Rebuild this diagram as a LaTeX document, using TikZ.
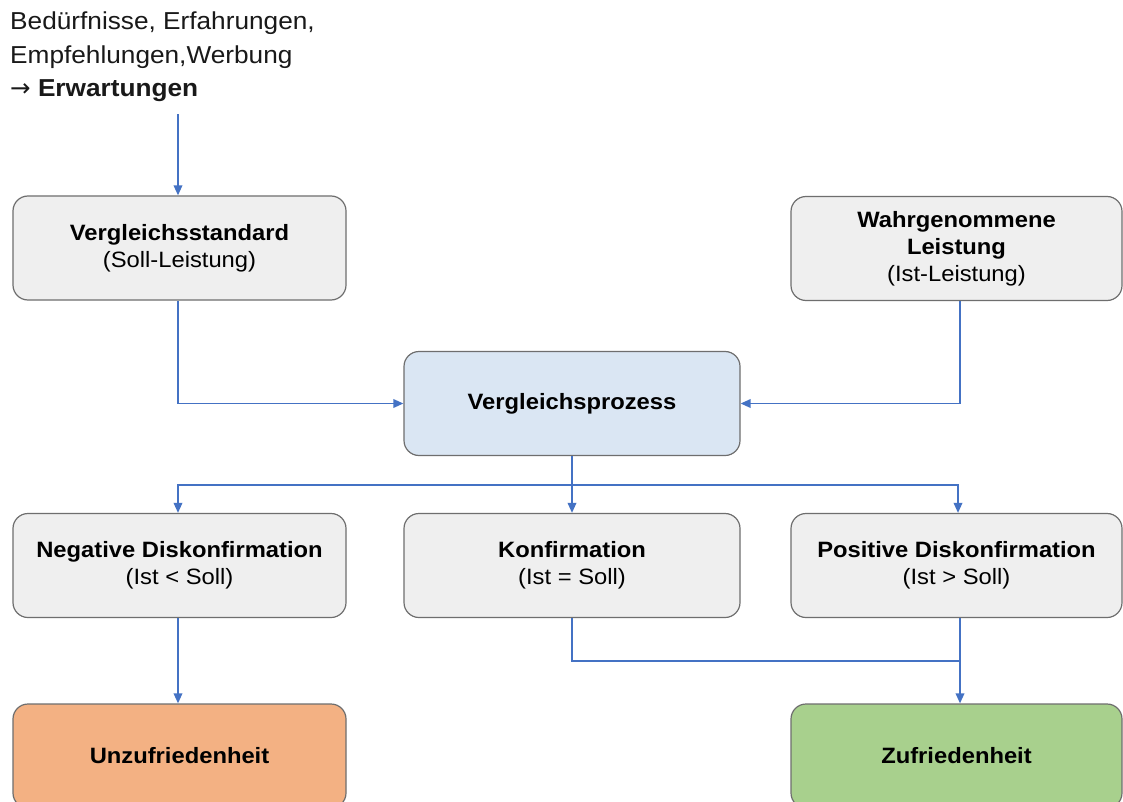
\documentclass[tikz,border=0pt]{standalone}
\usepackage{fontspec}
\setmainfont[FakeStretch=1.07]{Liberation Sans}
\newfontfamily\arrowfont{DejaVu Sans}
\usetikzlibrary{arrows.meta}
\definecolor{boxgray}{HTML}{EFEFEF}
\definecolor{boxline}{HTML}{6E6E6E}
\definecolor{procblue}{HTML}{DAE6F3}
\definecolor{unzorange}{HTML}{F3B183}
\definecolor{zufgreen}{HTML}{A8D08D}
\definecolor{conn}{HTML}{4472C4}
\tikzset{
  stagebox/.style={draw=boxline, line width=1.2pt, rounded corners=15pt,
    fill=boxgray, align=center, minimum width=333pt, minimum height=104pt,
    inner sep=0pt, font=\fontsize{22.2}{27}\selectfont, text=black},
  flow/.style={draw=conn, line width=1.8pt, -{Triangle[length=10pt,width=8.5pt]}},
  flowline/.style={draw=conn, line width=1.8pt},
}
\begin{document}
\begin{tikzpicture}[x=1pt,y=-1pt]
\useasboundingbox (0,0) rectangle (1123,802);
\clip (0,0) rectangle (1123,802);
\fill[white] (0,0) rectangle (1123,802);

% input text
\node[anchor=north west, inner sep=0pt, align=left,
      font=\fontsize{24.5}{33.5}\selectfont, text=black!90] (input) at (10,12)
  {Bedürfnisse, Erfahrungen,\\Empfehlungen,Werbung\\{\arrowfont →} \textbf{Erwartungen}};

% boxes
\node[stagebox] (std) at (179.5,248) {\textbf{Vergleichsstandard}\\(Soll-Leistung)};
\node[stagebox, minimum width=331pt] (ist) at (956.5,248.5) {\textbf{Wahrgenommene}\\\textbf{Leistung}\\(Ist-Leistung)};
\node[stagebox, fill=procblue, minimum width=336pt] (proc) at (572,403.5) {\textbf{Vergleichsprozess}};
\node[stagebox] (neg) at (179.5,565.5) {\textbf{Negative Diskonfirmation}\\(Ist < Soll)};
\node[stagebox, minimum width=336pt] (konf) at (572,565.5) {\textbf{Konfirmation}\\(Ist = Soll)};
\node[stagebox, minimum width=331pt] (pos) at (956.5,565.5) {\textbf{Positive Diskonfirmation}\\(Ist > Soll)};
\node[stagebox, fill=unzorange] (unz) at (179.5,756) {\textbf{Unzufriedenheit}};
\node[stagebox, fill=zufgreen, minimum width=331pt] (zuf) at (956.5,756) {\textbf{Zufriedenheit}};

% connector anchor points, kept on whole-point columns
\coordinate (stdout) at ([xshift=-1.5pt]std.south);
\coordinate (negin) at ([xshift=-1.5pt]neg.north);
\coordinate (negout) at ([xshift=-1.5pt]neg.south);
\coordinate (istout) at ([xshift=3.5pt]ist.south);
\coordinate (posin) at ([xshift=1.5pt]pos.north);
\coordinate (posout) at ([xshift=3.5pt]pos.south);
\coordinate (split) at ([yshift=-29pt]proc.south);
\coordinate (merge) at ([yshift=-43pt]konf.south);

% connectors
\draw[flow] ([yshift=-12pt]input.south -| stdout) -- (stdout |- std.north);
\draw[flow] (stdout) |- (proc.west);
\draw[flow] (istout) |- (proc.east);
\draw[flowline] (proc.south) -- (split);
\draw[flow] (split) -| (negin);
\draw[flow] (split) -- (konf.north);
\draw[flow] (split) -| (posin);
\draw[flow] (negout) -- (negout |- unz.north);
\draw[flowline] (konf.south) -- (merge) -- (merge -| posout);
\draw[flow] (posout) -- (posout |- zuf.north);
\end{tikzpicture}
\end{document}
